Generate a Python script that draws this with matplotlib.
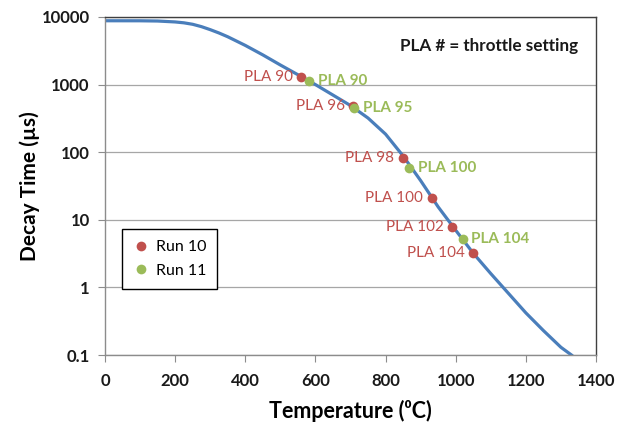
import numpy as np
import matplotlib
matplotlib.use("Agg")
import matplotlib.pyplot as plt

plt.rcParams['font.family'] = ['Lato', 'DejaVu Sans']

# decay curve
curve_T = [0, 100, 150, 200, 225, 250, 275, 300, 325, 350, 400, 450, 500, 550,
           600, 650, 700, 750, 800, 850, 900, 950, 1000, 1050, 1100, 1150,
           1200, 1250, 1300, 1330]
curve_tau = [8800, 8790, 8720, 8450, 8200, 7800, 7200, 6500, 5800, 5100, 3800,
             2750, 1950, 1400, 1000, 700, 490, 320, 185, 88, 38, 15.5, 7.0, 3.2,
             1.6, 0.82, 0.42, 0.23, 0.13, 0.1]

# Run 10 (red)
run10_T = [559, 708, 849, 931, 990, 1050]
run10_tau = [1310, 483, 83, 20.8, 7.7, 3.2]
run10_lab = ["PLA 90", "PLA 96", "PLA 98", "PLA 100", "PLA 102", "PLA 104"]

# Run 11 (green)
run11_T = [583, 711, 868, 1020]
run11_tau = [1130, 455, 58, 5.2]
run11_lab = ["PLA 90", "PLA 95", "PLA 100", "PLA 104"]

blue = '#4A7EBB'
red = '#C0504D'
green = '#9BBB59'

fig = plt.figure(figsize=(6.39, 4.24), dpi=100)
ax = fig.add_axes([105/639, 1 - 355/424, 491/639, 338/424])

ax.plot(curve_T, curve_tau, color=blue, lw=2.3, zorder=2)
ax.plot(run10_T, run10_tau, 'o', color=red, ms=7, mec='none', label='Run 10', zorder=3)
ax.plot(run11_T, run11_tau, 'o', color=green, ms=7, mec='none', label='Run 11', zorder=4)

for x, y, s in zip(run10_T, run10_tau, run10_lab):
    ax.annotate(s, (x, y), xytext=(-6, 0), textcoords='offset points',
                ha='right', va='center', color=red, fontsize=11)
for x, y, s in zip(run11_T, run11_tau, run11_lab):
    ax.annotate(s, (x, y), xytext=(6, 0), textcoords='offset points',
                ha='left', va='center', color=green, fontsize=11, fontweight='bold')

ax.text(0.963, 0.915, "PLA # = throttle setting", transform=ax.transAxes,
        ha='right', va='center', fontsize=12.3, fontweight='bold', color='#1a1a1a')

ax.set_yscale('log')
ax.set_ylim(0.1, 10000)
ax.set_xlim(0, 1400)
ax.set_xticks(np.arange(0, 1401, 200))
ax.set_yticks([0.1, 1, 10, 100, 1000, 10000])
ax.set_yticklabels(['0.1', '1', '10', '100', '1000', '10000'])
ax.yaxis.set_minor_locator(matplotlib.ticker.NullLocator())
ax.grid(axis='y', color='#A6A6A6', lw=0.9)
ax.set_axisbelow(True)

for side in ['left', 'bottom']:
    ax.spines[side].set_color('#8C8C8C')
    ax.spines[side].set_linewidth(1.0)
for side in ['top', 'right']:
    ax.spines[side].set_color('#404040')
    ax.spines[side].set_linewidth(1.0)

ax.tick_params(axis='both', direction='out', length=5, color='#8C8C8C',
               labelsize=12, pad=6)
ax.tick_params(axis='x', pad=8)
for lab in ax.get_xticklabels() + ax.get_yticklabels():
    lab.set_fontweight('bold')
    lab.set_color('#1a1a1a')

ax.set_xlabel("Temperature (\u2070C)", fontsize=15.5, fontweight='bold', labelpad=8)
ax.set_ylabel("Decay Time (\u00b5s)", fontsize=15, fontweight='bold', labelpad=1)

leg = ax.legend(loc='upper left', bbox_to_anchor=(0.035, 0.373), frameon=True,
                fancybox=False, edgecolor='black', framealpha=1, fontsize=11.5,
                handletextpad=0.4, borderpad=0.7, labelspacing=0.6,
                handlelength=1.0, numpoints=1, borderaxespad=0)
leg.get_frame().set_linewidth(1.0)

fig.savefig('out.png', dpi=100)
